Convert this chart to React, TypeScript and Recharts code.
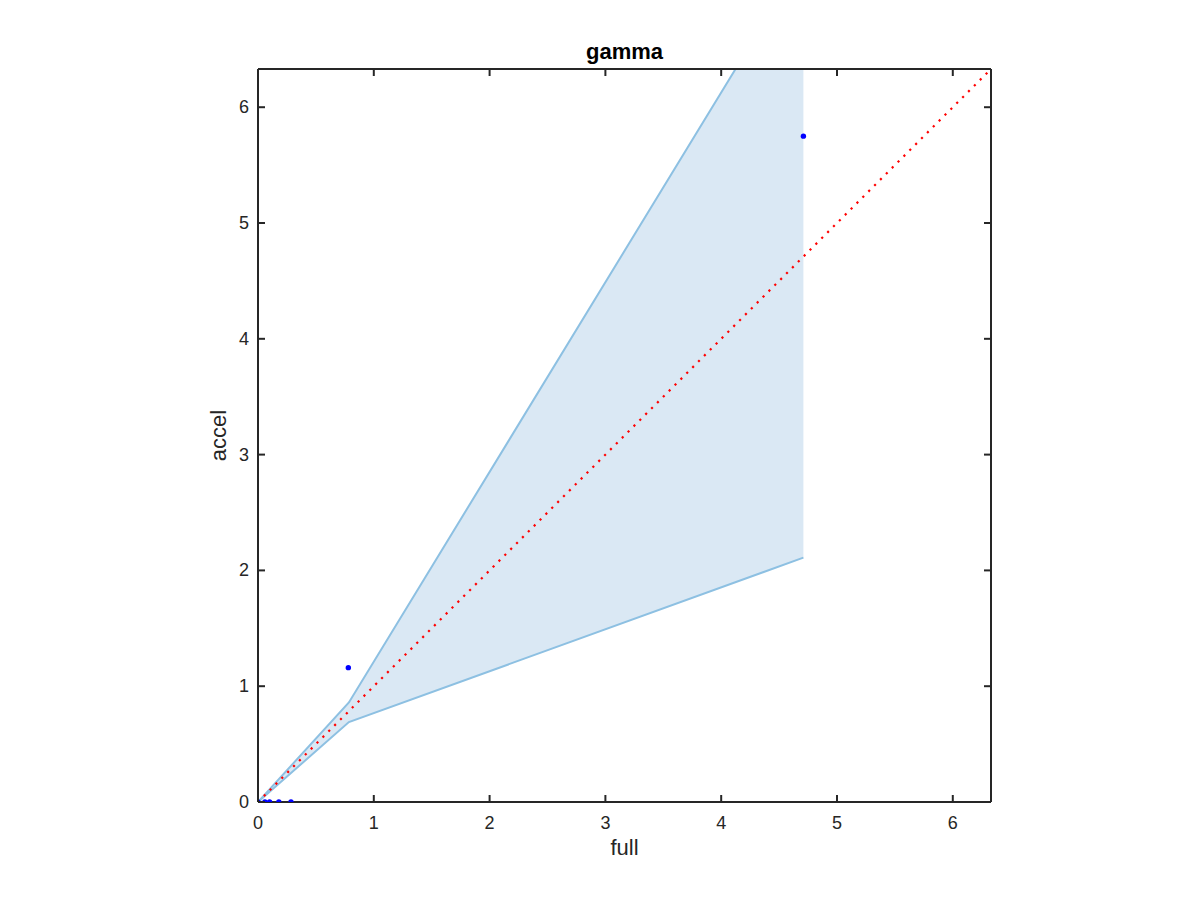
import {
  ComposedChart,
  Area,
  Line,
  Scatter,
  XAxis,
  YAxis,
} from 'recharts';

// axis range and ticks (same on both axes)
const AXIS_MAX = 6.33;
const TICKS = [0, 1, 2, 3, 4, 5, 6];

// shaded band: x, lower bound, upper bound
const bandX = [0, 0.785, 4.71];
const bandLow = [0, 0.69, 2.11];
const bandHigh = [0, 0.86, 7.29];

// blue sample points
const pointX = [0, 0.06, 0.1, 0.18, 0.285, 0.78, 4.71];
const pointY = [0, 0, 0, 0, 0, 1.16, 5.75];

// red dotted identity line
const diagX = [0, AXIS_MAX];

const bandData = bandX.map((x, i) => ({ x, band: [bandLow[i], bandHigh[i]] }));
const pointData = pointX.map((x, i) => ({ x, y: pointY[i] }));
const diagData = diagX.map((x) => ({ x, y: x }));

const AXIS_COLOR = '#262626';
const FONT = '"Liberation Sans", Arial, Helvetica, sans-serif';
const TICK_LEN = 7;
const TICK_FONT = 18;

// MATLAB-like inward ticks, drawn by hand so they point into the box
const BottomTick = (p: any) => (
  <g>
    <line x1={p.x} y1={p.y} x2={p.x} y2={p.y - TICK_LEN} stroke={AXIS_COLOR} strokeWidth={2} />
    <text x={p.x} y={p.y + 27} textAnchor="middle" fontSize={TICK_FONT} fill={AXIS_COLOR} fontFamily={FONT}>
      {p.payload.value}
    </text>
  </g>
);
const TopTick = (p: any) => (
  <line x1={p.x} y1={p.y} x2={p.x} y2={p.y + TICK_LEN} stroke={AXIS_COLOR} strokeWidth={2} />
);
const LeftTick = (p: any) => (
  <g>
    <line x1={p.x} y1={p.y} x2={p.x + TICK_LEN} y2={p.y} stroke={AXIS_COLOR} strokeWidth={2} />
    <text x={p.x - 9} y={p.y + 6} textAnchor="end" fontSize={TICK_FONT} fill={AXIS_COLOR} fontFamily={FONT}>
      {p.payload.value}
    </text>
  </g>
);
const RightTick = (p: any) => (
  <line x1={p.x} y1={p.y} x2={p.x - TICK_LEN} y2={p.y} stroke={AXIS_COLOR} strokeWidth={2} />
);

export default function App() {
  return (
    <div style={{ position: 'absolute', left: 0, top: 0, width: 1200, height: 900, background: '#fff' }}>
      <div
        style={{
          position: 'absolute',
          left: 0,
          width: 1249,
          top: 39,
          textAlign: 'center',
          fontFamily: FONT,
          fontWeight: 'bold',
          fontSize: 22,
          color: '#000',
        }}
      >
        gamma
      </div>
      <ComposedChart
        width={1200}
        height={900}
        margin={{ top: 68, right: 208, bottom: 38, left: 178 }}
      >
        <XAxis
          xAxisId="bottom"
          dataKey="x"
          type="number"
          domain={[0, AXIS_MAX]}
          ticks={TICKS}
          allowDataOverflow
          height={60}
          tickSize={0}
          tickMargin={0}
          tickLine={false}
          stroke={AXIS_COLOR}
          strokeWidth={2}
          tick={<BottomTick />}
          label={{ value: 'full', position: 'insideBottom', offset: 7, style: { fontSize: 22, fill: AXIS_COLOR, fontFamily: FONT } }}
        />
        <XAxis
          xAxisId="top"
          orientation="top"
          dataKey="x"
          type="number"
          domain={[0, AXIS_MAX]}
          ticks={TICKS}
          allowDataOverflow
          height={1}
          tickSize={0}
          tickMargin={0}
          tickLine={false}
          stroke={AXIS_COLOR}
          strokeWidth={2}
          tick={<TopTick />}
        />
        <YAxis
          yAxisId="left"
          dataKey="y"
          type="number"
          domain={[0, AXIS_MAX]}
          ticks={TICKS}
          allowDataOverflow
          width={80}
          tickSize={0}
          tickMargin={0}
          tickLine={false}
          stroke={AXIS_COLOR}
          strokeWidth={2}
          tick={<LeftTick />}
          label={{ value: 'accel', angle: -90, position: 'center', style: { fontSize: 22, fill: AXIS_COLOR, fontFamily: FONT, textAnchor: 'middle' } }}
        />
        <YAxis
          yAxisId="right"
          orientation="right"
          dataKey="y"
          type="number"
          domain={[0, AXIS_MAX]}
          ticks={TICKS}
          allowDataOverflow
          width={1}
          tickSize={0}
          tickMargin={0}
          tickLine={false}
          stroke={AXIS_COLOR}
          strokeWidth={2}
          tick={<RightTick />}
        />
        <Area
          xAxisId="bottom"
          yAxisId="left"
          data={bandData}
          dataKey="band"
          type="linear"
          fill="#DAE8F4"
          fillOpacity={1}
          stroke="#8DC0E2"
          strokeWidth={2}
          isAnimationActive={false}
        />
        <Line
          xAxisId="bottom"
          yAxisId="left"
          data={diagData}
          dataKey="y"
          type="linear"
          stroke="#FF0000"
          strokeWidth={2.2}
          strokeDasharray="2.2 6.1"
          dot={false}
          isAnimationActive={false}
        />
        <Scatter
          xAxisId="bottom"
          yAxisId="left"
          data={pointData}
          dataKey="y"
          fill="#0000FF"
          shape={(p: any) => <circle cx={p.cx} cy={p.cy} r={2.7} fill="#0000FF" />}
          isAnimationActive={false}
        />
      </ComposedChart>
    </div>
  );
}
